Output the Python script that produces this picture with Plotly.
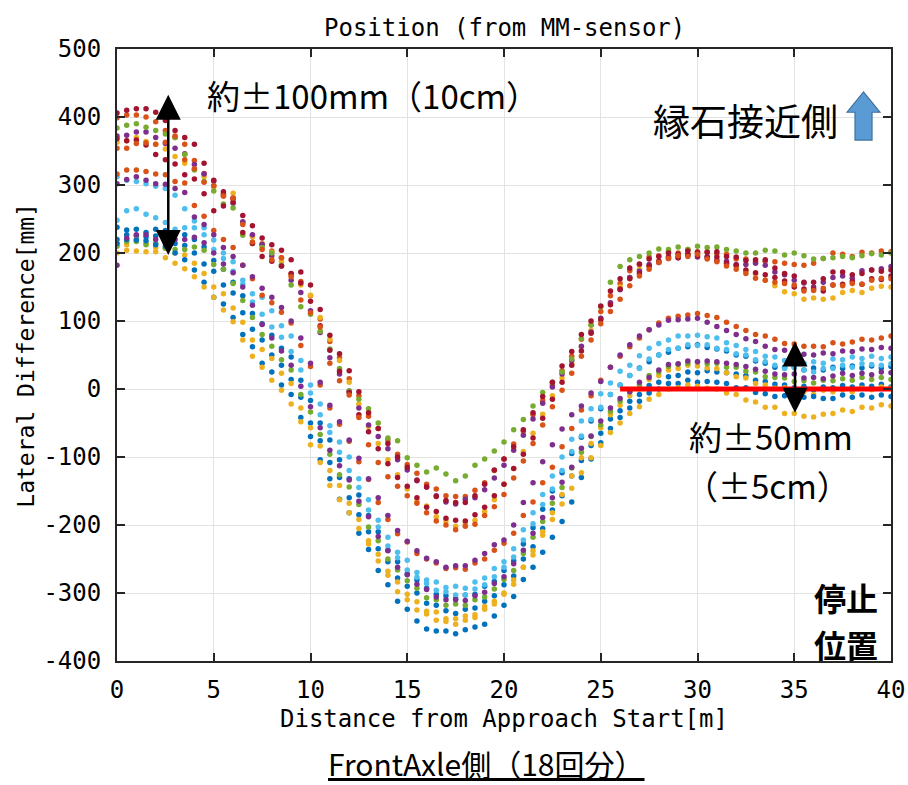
import plotly.graph_objects as go

# Distance grid [m]
DIST = [0.0, 0.5, 1.0, 1.5, 2.0, 2.5, 3.0, 3.5, 4.0, 4.5, 5.0, 5.5, 6.0, 6.5, 7.0, 7.5, 8.0, 8.5, 9.0, 9.5,
        10.0, 10.5, 11.0, 11.5, 12.0, 12.5, 13.0, 13.5, 14.0, 14.5, 15.0, 15.5, 16.0, 16.5, 17.0, 17.5, 18.0, 18.5, 19.0, 19.5,
        20.0, 20.5, 21.0, 21.5, 22.0, 22.5, 23.0, 23.5, 24.0, 24.5, 25.0, 25.5, 26.0, 26.5, 27.0, 27.5, 28.0, 28.5, 29.0, 29.5,
        30.0, 30.5, 31.0, 31.5, 32.0, 32.5, 33.0, 33.5, 34.0, 34.5, 35.0, 35.5, 36.0, 36.5, 37.0, 37.5, 38.0, 38.5, 39.0, 39.5, 40.0]

# 18 runs, lateral difference [mm]
run01 = [238,234,235,230,235,233,230,227,220,209,189,176,157,137,111,96,79,60,47,13,-17,-50,-75,-104,-132,-156,-186,-210,-237,-254,-272,-281,-293,-302,-304,-308,-303,-302,-290,-283,-267,-253,-228,-204,-177,-150,-123,-95,-71,-47,-29,-8,6,20,31,40,50,54,60,62,65,61,59,56,50,48,41,38,32,32,32,28,31,28,32,30,34,31,34,31,33]
run02 = [399,403,403,400,393,380,370,360,336,317,299,284,281,245,226,212,203,193,168,158,137,103,70,46,15,-10,-40,-58,-75,-96,-111,-124,-140,-147,-157,-158,-158,-149,-138,-120,-103,-81,-62,-38,-17,6,27,48,73,94,114,137,155,174,183,194,196,202,200,205,202,202,199,198,191,191,187,188,187,185,183,182,185,192,200,198,195,201,200,203,202]
run03 = [363,365,370,364,360,353,342,332,323,312,297,288,288,245,224,214,201,188,169,153,138,105,73,42,10,-22,-55,-80,-104,-126,-147,-165,-172,-188,-194,-202,-198,-193,-180,-163,-140,-117,-92,-65,-37,-10,16,37,62,86,104,127,150,164,176,180,188,194,194,198,200,195,189,183,180,173,169,160,152,143,140,132,134,132,134,142,145,142,148,151,150]
run04 = [372,373,378,378,370,361,354,346,330,316,306,286,273,246,227,213,196,181,160,142,115,83,46,22,-3,-28,-53,-70,-88,-104,-119,-135,-144,-157,-166,-169,-162,-160,-148,-131,-112,-90,-68,-44,-21,3,22,42,63,84,104,127,146,164,173,183,186,192,193,197,194,195,189,188,183,183,185,182,172,168,160,156,150,157,164,166,163,174,175,177,180]
run05 = [384,388,390,385,380,375,370,345,322,305,291,272,266,226,214,208,200,182,153,121,110,85,59,30,-3,-15,-29,-50,-72,-76,-101,-112,-122,-116,-125,-135,-128,-112,-103,-91,-78,-60,-45,-25,-5,10,25,44,74,94,121,157,180,190,195,200,206,205,209,205,210,208,209,205,203,200,200,204,203,197,200,196,191,192,193,195,193,196,199,197,200]
run06 = [312,307,305,302,298,295,285,265,247,237,219,200,187,160,140,135,115,93,78,42,6,-22,-54,-78,-100,-132,-163,-193,-218,-240,-252,-270,-281,-284,-292,-290,-293,-284,-278,-264,-254,-235,-207,-182,-155,-128,-100,-74,-47,-29,-7,9,26,35,49,60,67,72,78,78,79,77,75,68,64,58,55,48,47,42,42,38,40,38,44,43,47,45,48,45,47]
run07 = [406,410,412,412,407,395,380,370,360,332,307,290,280,255,240,222,212,204,190,172,153,117,79,52,27,-4,-35,-58,-80,-100,-115,-134,-144,-158,-164,-167,-167,-157,-140,-119,-103,-85,-60,-35,-11,10,34,55,80,100,122,144,162,178,184,191,195,200,198,203,201,201,202,195,194,189,190,190,178,170,166,157,157,162,172,172,168,170,175,173,175]
run08 = [220,227,225,224,225,215,214,211,200,184,173,153,141,112,88,72,50,35,14,-12,-50,-76,-108,-130,-160,-185,-210,-235,-254,-278,-290,-300,-315,-318,-326,-330,-324,-322,-312,-304,-288,-275,-250,-232,-205,-178,-157,-128,-105,-83,-65,-44,-32,-18,-8,5,10,18,20,25,24,27,25,24,22,20,13,11,7,6,2,4,-1,3,2,5,3,6,4,7,3]
run09 = [316,322,322,320,316,315,305,303,270,254,233,220,208,182,162,138,127,113,97,64,33,6,-28,-52,-77,-107,-133,-167,-192,-213,-225,-242,-250,-256,-264,-263,-265,-256,-250,-237,-227,-212,-186,-166,-138,-115,-85,-58,-31,-10,13,32,48,62,75,87,97,104,107,109,111,108,105,98,92,86,80,78,73,67,66,63,63,62,68,66,69,73,72,75,78]
run10 = [214,212,220,214,208,207,200,197,185,170,150,140,119,98,72,58,45,23,8,-28,-57,-84,-120,-142,-168,-192,-223,-243,-268,-284,-302,-313,-327,-328,-338,-338,-334,-332,-320,-312,-302,-281,-262,-238,-210,-182,-155,-128,-101,-80,-57,-38,-24,-10,0,14,20,28,30,35,34,31,30,24,18,16,8,6,1,2,-4,-4,-8,-2,-4,-1,-4,1,-1,3,1]
run11 = [302,308,312,307,302,301,295,289,253,242,227,208,195,182,165,148,135,120,100,75,38,10,-24,-48,-75,-102,-132,-160,-186,-208,-224,-238,-249,-254,-262,-260,-260,-252,-242,-229,-222,-200,-167,-138,-107,-82,-59,-38,-25,-6,11,32,50,65,78,87,94,101,102,103,104,98,92,86,80,74,70,63,58,57,52,51,50,53,52,56,55,59,58,61,60]
run12 = [210,217,217,212,214,207,205,205,209,204,183,176,155,130,105,80,63,43,28,-8,-34,-67,-96,-126,-144,-170,-203,-223,-250,-266,-282,-293,-307,-310,-318,-316,-318,-310,-306,-294,-280,-267,-242,-218,-195,-168,-145,-116,-93,-70,-53,-33,-18,-4,6,20,25,33,36,38,40,37,38,32,32,26,25,18,17,16,11,12,9,13,12,15,13,17,14,17,14]
run13 = [248,262,265,257,252,245,235,237,237,227,205,192,173,154,128,110,91,76,55,28,-6,-38,-64,-93,-120,-145,-178,-203,-231,-248,-266,-277,-286,-296,-298,-303,-303,-294,-288,-276,-262,-247,-222,-198,-170,-147,-120,-92,-69,-45,-27,-8,6,20,30,44,50,58,60,65,64,65,60,58,52,50,43,40,35,30,32,28,25,30,30,35,32,37,36,35,37]
run14 = [368,365,366,359,345,337,331,315,309,287,262,269,275,230,214,195,188,181,170,156,129,93,57,26,-5,-38,-63,-88,-110,-130,-143,-160,-174,-180,-190,-193,-194,-185,-174,-157,-140,-117,-96,-72,-43,-15,10,35,56,82,102,124,147,162,170,181,188,194,193,198,196,193,194,185,182,175,171,168,164,159,150,147,147,144,153,154,158,154,162,161,166]
run15 = [214,220,219,218,212,210,200,190,175,157,135,125,105,80,62,38,25,6,-8,-42,-70,-104,-132,-162,-182,-212,-236,-267,-288,-312,-324,-341,-353,-356,-356,-360,-354,-350,-346,-334,-318,-305,-280,-262,-240,-218,-195,-166,-130,-103,-79,-58,-42,-28,-18,-6,0,8,8,13,10,11,10,8,2,2,-5,-7,-11,-10,-15,-12,-11,-14,-14,-9,-12,-9,-12,-9,-11]
run16 = [354,354,361,362,360,363,372,337,324,304,299,284,281,242,216,205,190,193,165,131,112,91,38,12,-9,-42,-82,-108,-129,-143,-157,-168,-182,-194,-200,-207,-202,-199,-186,-173,-155,-131,-106,-80,-53,-26,-2,23,48,72,96,114,132,152,166,176,186,192,196,195,198,191,187,181,176,170,163,160,157,155,153,144,145,148,153,152,155,154,160,163,162]
run17 = [200,204,203,202,202,193,185,177,165,150,135,116,99,72,48,32,13,-2,-22,-48,-82,-108,-142,-163,-182,-205,-228,-253,-274,-298,-310,-325,-331,-340,-342,-346,-340,-336,-324,-316,-300,-287,-262,-244,-215,-192,-169,-146,-123,-101,-83,-64,-50,-36,-26,-15,-8,0,2,6,4,1,0,-6,-8,-16,-19,-27,-27,-36,-36,-40,-41,-37,-36,-31,-33,-27,-28,-23,-25]
run18 = [182,222,227,227,220,220,220,220,223,215,200,184,171,150,123,95,75,56,35,4,-26,-57,-90,-113,-134,-165,-188,-217,-238,-262,-273,-287,-295,-306,-310,-310,-311,-304,-299,-286,-276,-257,-237,-212,-189,-160,-137,-115,-87,-69,-47,-28,-14,-4,10,17,28,36,37,41,40,41,40,38,36,33,29,26,22,21,22,16,17,15,19,23,20,23,21,25,24]

RUNS = [run01, run02, run03, run04, run05, run06, run07, run08, run09,
        run10, run11, run12, run13, run14, run15, run16, run17, run18]

# MATLAB default colour order, cycled
COLOR_ORDER = ['#0072BD', '#D95319', '#EDB120', '#7E2F8E', '#77AC30', '#4DBEEE', '#A2142F']

# Reference (stop line) segment
REF_X = [26, 40]
REF_Y = [0, 0]

XTICKS = [0, 5, 10, 15, 20, 25, 30, 35, 40]
YTICKS = [-400, -300, -200, -100, 0, 100, 200, 300, 400, 500]

TICK_FONT = "DejaVu Sans Mono, monospace"
JP_FONT = "Noto Sans CJK JP, sans-serif"

fig = go.Figure()
for i, run in enumerate(RUNS):
    fig.add_trace(go.Scatter(
        x=DIST, y=run, mode='markers',
        marker=dict(size=5.5, color=COLOR_ORDER[i % 7], line=dict(width=0)),
        showlegend=False, hoverinfo='skip'))

fig.add_trace(go.Scatter(x=REF_X, y=REF_Y, mode='lines',
                         line=dict(color='#FF0000', width=5),
                         showlegend=False, hoverinfo='skip'))

axis_common = dict(
    showline=True, linecolor='#262626', linewidth=2, mirror='allticks',
    ticks='inside', ticklen=8, tickwidth=1.5, tickcolor='#262626',
    showgrid=True, gridcolor='#e3e3e3', gridwidth=1.2, zeroline=False,
    automargin=False,
    tickfont=dict(family=TICK_FONT, size=24, color='#000000'),
)

fig.update_layout(
    width=908, height=785,
    margin=dict(l=117, r=17, t=49, b=124, autoexpand=False),
    paper_bgcolor='white', plot_bgcolor='white',
    xaxis=dict(range=[0, 40], tickvals=XTICKS, ticktext=[str(v) for v in XTICKS],
               ticklabelstandoff=6, **axis_common),
    yaxis=dict(range=[-400, 500], tickvals=YTICKS, ticktext=[str(v) for v in YTICKS],
               ticklabelstandoff=9, **axis_common),
)

annotations = [
    # title and axis titles
    dict(text="Position (from MM-sensor)", xref='paper', yref='paper', x=0.5, y=1.034,
         xanchor='center', yanchor='middle',
         showarrow=False, font=dict(family=TICK_FONT, size=24, color='#000')),
    dict(text="Distance from Approach Start[m]", xref='paper', yref='paper', x=0.5, y=-0.0955,
         xanchor='center', yanchor='middle',
         showarrow=False, font=dict(family=TICK_FONT, size=24, color='#000')),
    dict(text="Lateral Difference[mm]", xref='paper', yref='paper', x=-0.118, y=0.5,
         xanchor='center', yanchor='middle',
         textangle=-90, showarrow=False, font=dict(family=TICK_FONT, size=23, color='#000')),
    dict(text="<u>FrontAxle側（18回分）</u>", xref='paper', yref='paper', x=0.477, y=-0.1667,
         xanchor='center', yanchor='middle',
         showarrow=False, font=dict(family=JP_FONT, size=30, color='#000')),
    # in-plot labels
    dict(text="約±100mm（10cm）", x=4.55, y=432, xanchor='left', yanchor='middle',
         showarrow=False, font=dict(family=JP_FONT, size=33, color='#000')),
    dict(text="縁石接近側", x=37.36, y=395, xanchor='right', yanchor='middle',
         showarrow=False, font=dict(family=JP_FONT, size=37, color='#000')),
    dict(text="約±50mm", x=33.8, y=-69, xanchor='center', yanchor='middle',
         showarrow=False, font=dict(family=JP_FONT, size=33, color='#000')),
    dict(text="（±5cm）", x=33.6, y=-141, xanchor='center', yanchor='middle',
         showarrow=False, font=dict(family=JP_FONT, size=33, color='#000')),
    dict(text="<b>停止</b>", x=37.67, y=-306, xanchor='center', yanchor='middle',
         showarrow=False, font=dict(family=JP_FONT, size=32, color='#000')),
    dict(text="<b>位置</b>", x=37.67, y=-375, xanchor='center', yanchor='middle',
         showarrow=False, font=dict(family=JP_FONT, size=32, color='#000')),
    # double-headed arrows
    dict(x=2.65, y=197, ax=2.65, ay=435, xref='x', yref='y', axref='x', ayref='y',
         text='', showarrow=True, arrowhead=2, startarrowhead=2, arrowside='end+start',
         arrowsize=2.0, startarrowsize=2.0, arrowwidth=2.5, arrowcolor='#000'),
    dict(x=35.04, y=-35, ax=35.04, ay=72, xref='x', yref='y', axref='x', ayref='y',
         text='', showarrow=True, arrowhead=2, startarrowhead=2, arrowside='end+start',
         arrowsize=2.0, startarrowsize=2.0, arrowwidth=2.5, arrowcolor='#000'),
]
fig.update_layout(annotations=annotations)

# blue block arrow next to 縁石接近側
fig.add_shape(type='path', xref='x', yref='y',
              path='M 38.14,366 L 39.02,366 L 39.02,407 L 39.43,407 L 38.58,437 L 37.73,407 L 38.14,407 Z',
              fillcolor='#5B9BD5', line=dict(color='#41719C', width=1.2))

# remove the default page margin so the figure sits at the window's top-left corner
fig.write_html("out.html", config={'displayModeBar': False},
               post_script="document.body.style.margin='0px';")
